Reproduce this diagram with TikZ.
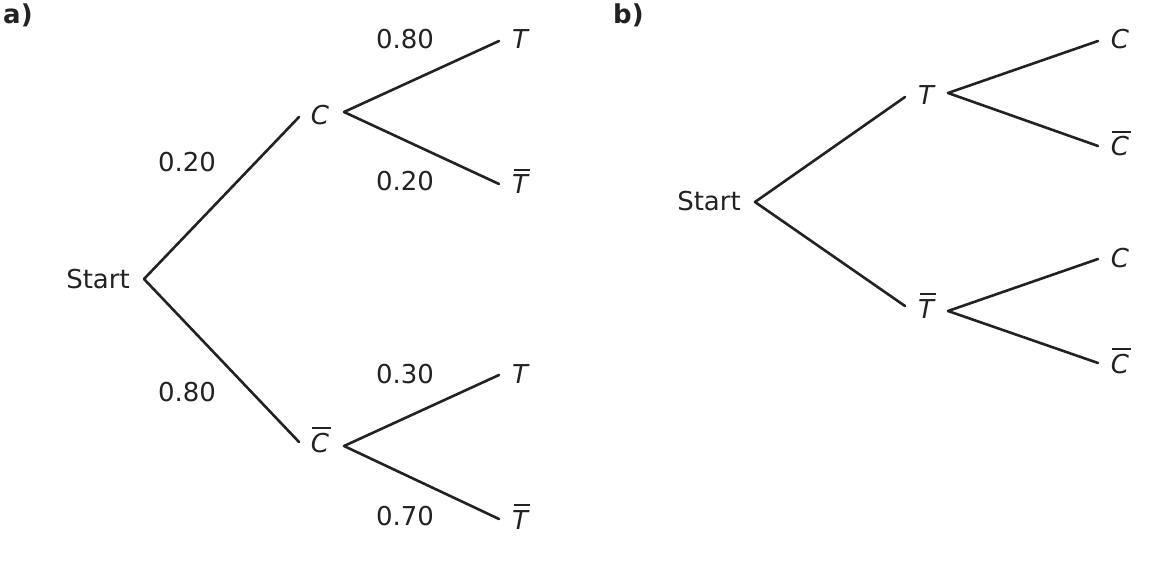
\documentclass[tikz,border=0pt]{standalone}
\usepackage{fontspec}
\setmainfont{DejaVu Sans}
\definecolor{ink}{HTML}{222222}
\newsavebox{\ovlbox}
\newcommand{\ovl}[1]{\sbox{\ovlbox}{\itshape #1}\hbox{\rlap{\hspace{0.06em}\raisebox{0.9em}{\rule{\wd\ovlbox}{0.075em}}}\usebox{\ovlbox}}}
\tikzset{
  lbl/.style={anchor=base, inner sep=0pt, text=ink, font=\fontsize{26}{31}\selectfont},
  branch/.style={draw=ink, line width=2.6pt, line cap=round, line join=round},
  panel/.style={anchor=base west, inner sep=0pt, text=ink, font=\fontsize{26}{31}\selectfont\bfseries}
}
\begin{document}
\begin{tikzpicture}[x=1pt,y=-1pt]
\useasboundingbox (0,0) rectangle (1164,564);
% panel a
\node[panel] (pa) at (3,24) {a)};
\node[lbl, anchor=base east] (aStart) at (130,288) {Start};
\coordinate (a0) at (144,279);
\coordinate (aC) at (299,117);
\coordinate (aCb) at (299,442);
\coordinate (aC1) at (344,112);
\coordinate (aCb1) at (344,446);
\coordinate (aT1) at (499,41);
\coordinate (aTb1) at (499,184);
\coordinate (aT2) at (499,375);
\coordinate (aTb2) at (499,519);
\node[lbl] (laC) at (320,125) {\itshape C};
\node[lbl] (laCb) at (320,452) {\ovl{C}};
\node[lbl] (laT1) at (520,49) {\itshape T};
\node[lbl] (laTb1) at (520,194) {\ovl{T}};
\node[lbl] (laT2) at (520,383) {\itshape T};
\node[lbl] (laTb2) at (520,529) {\ovl{T}};
\node[lbl] (p1) at (187,172) {0.20};
\node[lbl] (p2) at (187,401) {0.80};
\node[lbl] (p3) at (405,49) {0.80};
\node[lbl] (p4) at (405,191) {0.20};
\node[lbl] (p5) at (405,383) {0.30};
\node[lbl] (p6) at (405,525) {0.70};
\draw[branch] (aC) -- (a0) -- (aCb);
\draw[branch] (aT1) -- (aC1) -- (aTb1);
\draw[branch] (aT2) -- (aCb1) -- (aTb2);
% panel b
\node[panel] (pb) at (613,24) {b)};
\node[lbl, anchor=base east] (bStart) at (741,211) {Start};
\coordinate (b0) at (755,202);
\coordinate (bT) at (905,97);
\coordinate (bTb) at (905,306);
\coordinate (bT1) at (948,93);
\coordinate (bTb1) at (948,311);
\coordinate (bC1) at (1098,41);
\coordinate (bCb1) at (1098,146);
\coordinate (bC2) at (1098,259);
\coordinate (bCb2) at (1098,363);
\node[lbl] (lbT) at (926,105) {\itshape T};
\node[lbl] (lbTb) at (926,318) {\ovl{T}};
\node[lbl] (lbC1) at (1120,49) {\itshape C};
\node[lbl] (lbCb1) at (1120,156) {\ovl{C}};
\node[lbl] (lbC2) at (1120,267) {\itshape C};
\node[lbl] (lbCb2) at (1120,373) {\ovl{C}};
\draw[branch] (bT) -- (b0) -- (bTb);
\draw[branch] (bC1) -- (bT1) -- (bCb1);
\draw[branch] (bC2) -- (bTb1) -- (bCb2);
\end{tikzpicture}
\end{document}
